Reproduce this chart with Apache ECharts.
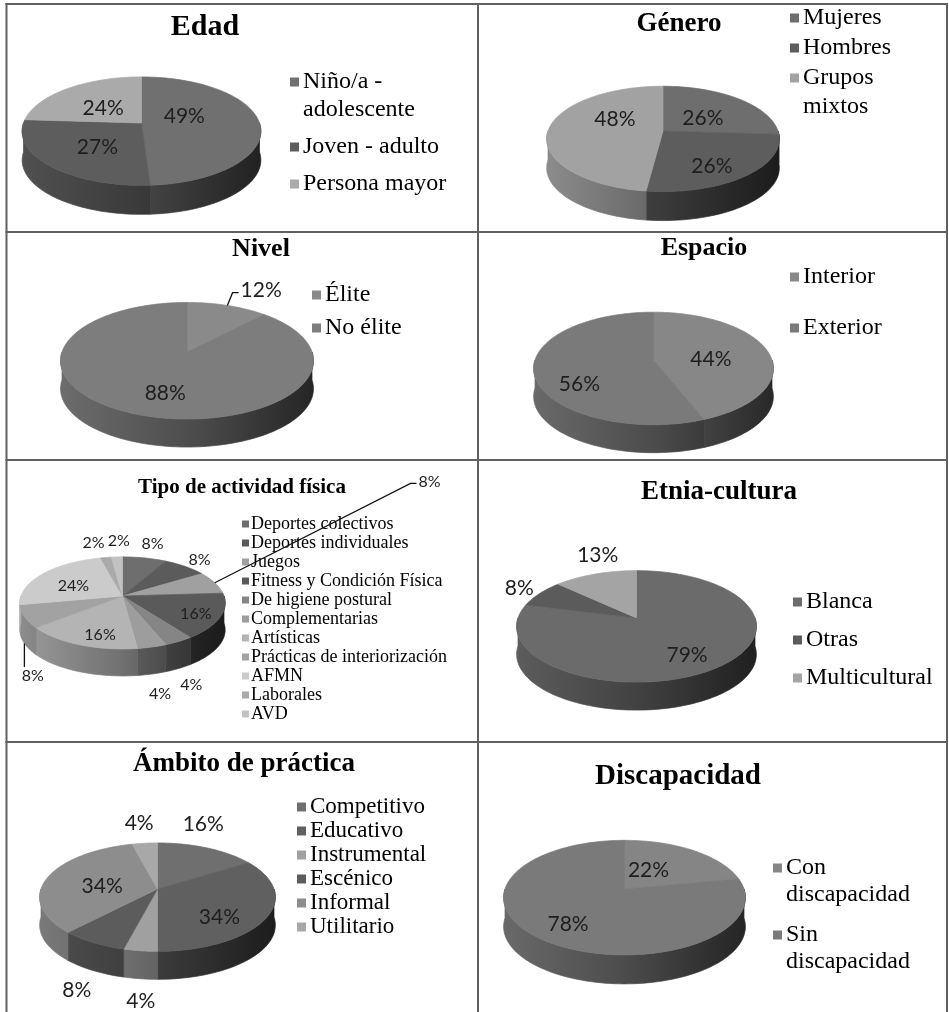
<!DOCTYPE html>
<html>
<head>
<meta charset="utf-8">
<script src="https://cdn.jsdelivr.net/npm/echarts@6/dist/echarts.min.js"></script>
<style>
  html, body { margin: 0; padding: 0; background: #fff; }
  #chart { width: 949px; height: 1012px; }
</style>
</head>
<body>
<div id="chart"></div>
<script>
// --- data (percent of cases) ---
const edadNames = ['Niño/a - adolescente', 'Joven - adulto', 'Persona mayor'];
const edadValues = [49, 27, 24];

const generoNames = ['Mujeres', 'Hombres', 'Grupos mixtos'];
const generoValues = [26, 26, 48];

const nivelNames = ['Élite', 'No élite'];
const nivelValues = [12, 88];

const espacioNames = ['Interior', 'Exterior'];
const espacioValues = [44, 56];

const tipoNames = ['Deportes colectivos', 'Deportes individuales', 'Juegos', 'Fitness y Condición Física',
  'De higiene postural', 'Complementarias', 'Artísticas', 'Prácticas de interiorización', 'AFMN', 'Laborales', 'AVD'];
const tipoValues = [8, 8, 8, 16, 4, 4, 16, 8, 24, 2, 2];

const etniaNames = ['Blanca', 'Otras', 'Multicultural'];
const etniaValues = [79, 8, 13];

const ambitoNames = ['Competitivo', 'Educativo', 'Instrumental', 'Escénico', 'Informal', 'Utilitario'];
const ambitoValues = [16, 34, 4, 8, 34, 4];

const discNames = ['Con discapacidad', 'Sin discapacidad'];
const discValues = [22, 78];

// --- grey palettes ---
const edadColors = ['#707070', '#5d5d5d', '#aaaaaa'];
const generoColors = ['#6e6e6e', '#5d5d5d', '#a2a2a2'];
const nivelColors = ['#8a8a8a', '#7d7d7d'];
const espacioColors = ['#878787', '#7a7a7a'];
const tipoColors = ['#6e6e6e', '#5b5b5b', '#a0a0a0', '#5a5a5a', '#858585', '#9d9d9d',
  '#b4b4b4', '#a2a2a2', '#cbcbcb', '#aaaaaa', '#c2c2c2'];
const etniaColors = ['#6b6b6b', '#5b5b5b', '#a4a4a4'];
const ambitoColors = ['#6f6f6f', '#606060', '#a0a0a0', '#5c5c5c', '#8d8d8d', '#a8a8a8'];
const discColors = ['#858585', '#7a7a7a'];

const SERIF = "'Liberation Serif', 'Times New Roman', serif";

// layout of each cell (nudge = label shift like excel's best fit, optional leader line)
const charts = [
  { title: 'Edad', names: edadNames, values: edadValues, colors: edadColors,
    titleAt: [205, 12], titleSize: 30,
    pie: { cx: 141.5, cy: 123, a: 118, b: 53, h: 29 }, insideMin: 10,
    nudge: { 0: [-16, -10] },
    legend: { x: 290, y: 82, size: 24, lineHeight: 28, gap: 9, wrap: 160 } },
  { title: 'Género', names: generoNames, values: generoValues, colors: generoColors,
    titleAt: [679, 11], titleSize: 27,
    pie: { cx: 663, cy: 131, a: 115, b: 51.5, h: 29 }, insideMin: 10,
    nudge: { 1: [10, 10], 2: [9, -14] },
    legend: { x: 790, y: 18, size: 24, lineHeight: 29, gap: 1, wrap: 110 } },
  { title: 'Nivel', names: nivelNames, values: nivelValues, colors: nivelColors,
    titleAt: [261, 236], titleSize: 26,
    pie: { cx: 187, cy: 352, a: 125, b: 57, h: 28 }, insideMin: 15,
    nudge: { 0: [20, 1, 'h'], 1: [3, 9] },
    legend: { x: 312, y: 295, size: 24, lineHeight: 28, gap: 5 } },
  { title: 'Espacio', names: espacioNames, values: espacioValues, colors: espacioColors,
    titleAt: [704, 235], titleSize: 26,
    pie: { cx: 653.5, cy: 360, a: 118.5, b: 55, h: 28 }, insideMin: 10,
    nudge: { 1: [-15, 15] },
    legend: { x: 790, y: 277, size: 24, lineHeight: 28, gap: 23 } },
  { title: 'Tipo de actividad física', names: tipoNames, values: tipoValues, colors: tipoColors,
    titleAt: [242, 477], titleSize: 21,
    pie: { cx: 122.5, cy: 596, a: 101.5, b: 45, h: 27 }, insideMin: 10, labelK: 0.6, labelSize: 16,
    nudge: { 2: [199, -99, 'h'], 3: [16, 2], 6: [2, 7], 7: [24, 23, 'v'], 9: [-6, 0], 10: [4, 0] },
    legend: { x: 242, y: 524, size: 18, lineHeight: 19, gap: 0, icon: 7, textGap: 9 } },
  { title: 'Etnia-cultura', names: etniaNames, values: etniaValues, colors: etniaColors,
    titleAt: [719, 479], titleSize: 27,
    pie: { cx: 636.5, cy: 618, a: 118.5, b: 54.5, h: 28 }, insideMin: 15,
    nudge: { 0: [12, 10], 2: [17, -4] },
    legend: { x: 793, y: 602, size: 24, lineHeight: 28, gap: 10 } },
  { title: 'Ámbito de práctica', names: ambitoNames, values: ambitoValues, colors: ambitoColors,
    titleAt: [244, 751], titleSize: 27,
    pie: { cx: 157.5, cy: 889, a: 116.5, b: 53, h: 28 }, insideMin: 20,
    nudge: { 0: [-20, -10], 1: [9, 11], 2: [6, -4] },
    legend: { x: 297, y: 807, size: 23, lineHeight: 24, gap: 0 } },
  { title: 'Discapacidad', names: discNames, values: discValues, colors: discColors,
    titleAt: [678, 762], titleSize: 29,
    pie: { cx: 624.5, cy: 889, a: 119.5, b: 56, h: 29 }, insideMin: 10,
    nudge: { 0: [-12, -2], 1: [-16, 8] },
    legend: { x: 773, y: 868, size: 24, lineHeight: 27, gap: 13, wrap: 130 } }
];

const TILT = 0.15; // perspective of the excel-like 3d pies
const measureCtx = document.createElement('canvas').getContext('2d');

function shade(hex, f) {
  const n = parseInt(hex.slice(1), 16);
  const r = Math.round(((n >> 16) & 255) * f);
  const g = Math.round(((n >> 8) & 255) * f);
  const b = Math.round((n & 255) * f);
  return 'rgb(' + r + ',' + g + ',' + b + ')';
}

// point on the pie disc at angle deg (clockwise from 12 o'clock), radius fraction k
function proj(P, deg, k) {
  const r = deg * Math.PI / 180;
  const sx = Math.sin(r) * k;
  const d = -Math.cos(r) * k;
  const p = 1 / (1 - TILT * d);
  return [P.cx + P.a * sx * p, P.cy + P.b * d * p];
}

function pieRenderer(cfg) {
  const P = cfg.pie;
  const k = cfg.labelK || 0.5;
  const size = cfg.labelSize || 21;
  return function (params, api) {
    const idx = params.dataIndexInside;
    let total = 0, before = 0;
    for (let i = 0; i < params.dataInsideLength; i++) {
      const v = api.value(0, i);
      total += v;
      if (i < idx) before += v;
    }
    const val = api.value(0);
    const a0 = before / total * 360;
    const a1 = (before + val) / total * 360;
    const color = api.visual('color');
    const children = [];

    // top face
    const topPts = [proj(P, 0, 0)];
    const n = Math.max(2, Math.ceil((a1 - a0) / 2));
    for (let s = 0; s <= n; s++) topPts.push(proj(P, a0 + (a1 - a0) * s / n, 1));
    children.push({ type: 'polygon', z2: 2, shape: { points: topPts },
      style: { fill: color, stroke: color, lineWidth: 0.7 } });

    // front side wall
    const w0 = Math.max(a0, 90), w1 = Math.min(a1, 270);
    if (w1 > w0) {
      const up = [], down = [];
      const m = Math.max(2, Math.ceil((w1 - w0) / 2));
      for (let s = 0; s <= m; s++) {
        const pt = proj(P, w0 + (w1 - w0) * s / m, 1);
        up.push(pt);
        down.unshift([pt[0], pt[1] + P.h]);
      }
      const grad = { type: 'linear', x: P.cx - P.a, y: 0, x2: P.cx + P.a, y2: 0, global: true,
        colorStops: [
          { offset: 0, color: shade(color, 0.86) },
          { offset: 0.5, color: shade(color, 0.62) },
          { offset: 1, color: shade(color, 0.3) }
        ] };
      children.push({ type: 'polygon', z2: 1, shape: { points: up.concat(down) },
        style: { fill: grad, stroke: grad, lineWidth: 0.7 } });
    }

    // percent label
    const text = val + '%';
    const mid = (a0 + a1) / 2;
    const r = mid * Math.PI / 180;
    let lx, ly, anchor = null;
    if (val / total * 100 >= cfg.insideMin) {
      const pt = proj(P, mid, k);
      lx = pt[0];
      ly = pt[1] + 4;
    } else {
      const front = Math.cos(r) < 0;
      anchor = proj(P, mid, 1);
      if (front) anchor[1] += P.h;
      const dx = Math.sin(r) * P.a, dy = -Math.cos(r) * P.b;
      const len = Math.hypot(dx, dy);
      lx = anchor[0] + dx / len * size;
      ly = anchor[1] + dy / len * size + (front ? 6 : 0);
    }
    const nudge = cfg.nudge && cfg.nudge[idx];
    if (nudge) {
      lx += nudge[0];
      ly += nudge[1];
      if (nudge[2] && anchor) {
        measureCtx.font = size + 'px Lato';
        const half = measureCtx.measureText(text).width / 2;
        const pts = nudge[2] === 'h'
          ? [anchor, [lx - half - 8, ly + 2], [lx - half - 2, ly + 2]]
          : [anchor, [anchor[0], ly - size * 0.55]];
        children.push({ type: 'polyline', z2: 3, shape: { points: pts },
          style: { stroke: '#111', lineWidth: 1.3, fill: null } });
      }
    }
    children.push({ type: 'text', z2: 4, x: lx, y: ly,
      style: { text: text, fill: '#1e1e1e', fontFamily: 'Lato', fontSize: size,
        align: 'center', verticalAlign: 'middle' } });

    return { type: 'group', children: children };
  };
}

function wrapText(name, size, maxW) {
  if (!maxW) return name;
  measureCtx.font = size + 'px "Liberation Serif"';
  const lines = [];
  let cur = '';
  name.split(' ').forEach(function (w) {
    const test = cur ? cur + ' ' + w : w;
    if (cur && measureCtx.measureText(test).width > maxW) {
      lines.push(cur);
      cur = w;
    } else {
      cur = test;
    }
  });
  lines.push(cur);
  return lines.join('\n');
}

function legendElements(cfg) {
  const L = cfg.legend;
  const icon = L.icon || 9;
  const textGap = L.textGap || 13;
  const els = [];
  let c = L.y;
  cfg.names.forEach(function (name, i) {
    const text = wrapText(name, L.size, L.wrap);
    els.push({ type: 'rect', silent: true,
      shape: { x: L.x, y: c - icon / 2, width: icon, height: icon },
      style: { fill: cfg.colors[i] } });
    els.push({ type: 'text', silent: true, x: L.x + textGap, y: c - L.lineHeight / 2,
      style: { text: text, fontFamily: SERIF, fontSize: L.size,
        lineHeight: L.lineHeight, fill: '#000', verticalAlign: 'top' } });
    c += text.split('\n').length * L.lineHeight + L.gap;
  });
  return els;
}

// table grid
const rowLines = [4, 232, 460, 742];
const colLines = [6.5, 478, 947];
const gridEls = [];
rowLines.forEach(function (y) {
  gridEls.push({ type: 'line', silent: true, shape: { x1: 5.5, y1: y, x2: 948, y2: y },
    style: { stroke: '#606060', lineWidth: 2 } });
});
colLines.forEach(function (x) {
  gridEls.push({ type: 'line', silent: true, shape: { x1: x, y1: 3, x2: x, y2: 1012 },
    style: { stroke: '#606060', lineWidth: 2 } });
});

const myChart = echarts.init(document.getElementById('chart'));

const option = {
  backgroundColor: '#fff',
  animation: false,
  title: charts.map(function (c) {
    return {
      text: c.title,
      left: c.titleAt[0],
      top: c.titleAt[1],
      textAlign: 'center',
      textVerticalAlign: 'top',
      padding: 0,
      textStyle: { fontFamily: SERIF, fontWeight: 'bold', fontSize: c.titleSize, color: '#000' }
    };
  }),
  graphic: {
    elements: gridEls.concat.apply(gridEls, charts.map(legendElements))
  },
  series: charts.map(function (c) {
    return {
      type: 'custom',
      name: c.title,
      coordinateSystem: 'none',
      silent: true,
      renderItem: pieRenderer(c),
      data: c.values.map(function (v, i) {
        return { name: c.names[i], value: v, itemStyle: { color: c.colors[i] } };
      })
    };
  })
};

myChart.setOption(option);
</script>
</body>
</html>
